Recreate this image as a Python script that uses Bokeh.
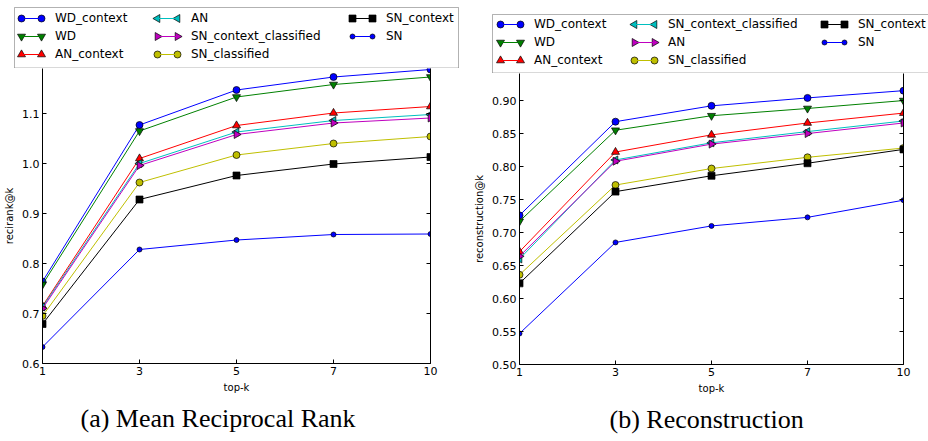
import math

from bokeh.embed import file_html
from bokeh.layouts import column, row
from bokeh.models import (BoxAnnotation, FixedTicker, Legend, LegendItem,
                          LinearAxis, Range1d, Title)
from bokeh.plotting import figure
from bokeh.resources import INLINE

# x positions are evenly spaced, labelled by the top-k cut-off
TOP_K = [1, 3, 5, 7, 10]

# ---- (a) mean reciprocal rank ----
MRR_LABELS = ["WD_context", "WD", "AN_context", "AN",
              "SN_context_classified", "SN_classified", "SN_context", "SN"]
MRR_WD_CONTEXT = [0.764, 1.077, 1.147, 1.173, 1.188]
MRR_WD = [0.758, 1.065, 1.133, 1.158, 1.173]
MRR_AN_CONTEXT = [0.715, 1.010, 1.076, 1.101, 1.114]
MRR_AN = [0.713, 1.000, 1.063, 1.086, 1.098]
MRR_SN_CONTEXT_CLASSIFIED = [0.710, 0.996, 1.058, 1.081, 1.091]
MRR_SN_CLASSIFIED = [0.695, 0.962, 1.017, 1.040, 1.054]
MRR_SN_CONTEXT = [0.679, 0.928, 0.976, 0.999, 1.013]
MRR_SN = [0.633, 0.828, 0.847, 0.858, 0.859]
MRR_TICKS = [0.6, 0.7, 0.8, 0.9, 1.0, 1.1]

# ---- (b) reconstruction ----
REC_LABELS = ["WD_context", "WD", "AN_context", "SN_context_classified",
              "AN", "SN_classified", "SN_context", "SN"]
REC_WD_CONTEXT = [0.726, 0.868, 0.892, 0.904, 0.915]
REC_WD = [0.717, 0.855, 0.877, 0.888, 0.900]
REC_AN_CONTEXT = [0.671, 0.822, 0.848, 0.866, 0.881]
REC_SN_CONTEXT_CLASSIFIED = [0.660, 0.810, 0.836, 0.853, 0.869]
REC_AN = [0.664, 0.808, 0.834, 0.850, 0.866]
REC_SN_CLASSIFIED = [0.636, 0.772, 0.797, 0.814, 0.828]
REC_SN_CONTEXT = [0.623, 0.762, 0.786, 0.805, 0.826]
REC_SN = [0.547, 0.685, 0.710, 0.723, 0.749]
REC_TICKS = [0.50, 0.55, 0.60, 0.65, 0.70, 0.75, 0.80, 0.85, 0.90]

MRR_VALUES = [MRR_WD_CONTEXT, MRR_WD, MRR_AN_CONTEXT, MRR_AN,
              MRR_SN_CONTEXT_CLASSIFIED, MRR_SN_CLASSIFIED, MRR_SN_CONTEXT, MRR_SN]
REC_VALUES = [REC_WD_CONTEXT, REC_WD, REC_AN_CONTEXT, REC_SN_CONTEXT_CLASSIFIED,
              REC_AN, REC_SN_CLASSIFIED, REC_SN_CONTEXT, REC_SN]

# line colour, marker, marker rotation, marker size (one per legend slot)
STYLES = [
    ("#0000ff", "circle", 0.0, 7),
    ("#008000", "inverted_triangle", 0.0, 8),
    ("#ff0000", "triangle", 0.0, 8),
    ("#00bfbf", "triangle", math.pi / 2, 8),
    ("#bf00bf", "triangle", -math.pi / 2, 8),
    ("#bfbf00", "circle", 0.0, 7),
    ("#000000", "square", 0.0, 7),
    ("#0000ff", "circle", 0.0, 5),
]

SANS = "DejaVu Sans"
SERIF = "Liberation Serif"
XS = list(range(len(TOP_K)))

# legend geometry (pixels)
ROW_H = 18
SWATCH_W = 20
N_ROWS = 3


def add_series(p, ys, style, **kw):
    color, marker, angle, size = style
    ln = p.line(XS, ys, line_color=color, line_width=1, **kw)
    mk = p.scatter(XS, ys, marker=marker, size=size, angle=angle,
                   fill_color=color, line_color="black", line_width=0.7, **kw)
    return ln, mk


def make_legend(labels, values, height, box, col_x, row_y):
    """Strip above a panel holding the boxed, three-column legend.

    The strip's frame fills the whole strip and its data units are pixels
    measured from the top-left corner, so the box and swatches can be
    placed directly.
    """
    lg = figure(width=464, height=height, output_backend="svg",
                toolbar_location=None, x_axis_type=None, y_axis_type=None,
                x_range=Range1d(0, 464), y_range=Range1d(height, 0),
                min_border=0, outline_line_color=None, frame_align=False)
    lg.grid.visible = False
    # legend entries refer to renderers kept on an off-screen range
    lg.extra_y_ranges = {"swatch": Range1d(100, 101)}

    bx0, bx1, by0, by1 = box
    lg.add_layout(BoxAnnotation(left=bx0, right=bx1, top=by0, bottom=by1,
                                fill_color="white", fill_alpha=1,
                                line_color="black", line_width=1))

    top = height - row_y - N_ROWS * ROW_H
    items = []
    for k, (label, ys, style) in enumerate(zip(labels, values, STYLES)):
        ln, _ = add_series(lg, ys, style, y_range_name="swatch")
        items.append(LegendItem(label=label, renderers=[ln]))
        # a marker at each end of the swatch line
        color, marker, angle, size = style
        cx = col_x[k // N_ROWS]
        cy = top + ROW_H / 2 + ROW_H * (k % N_ROWS)
        lg.scatter([cx, cx + SWATCH_W], [cy, cy], marker=marker, size=size,
                   angle=angle, fill_color=color, line_color="black",
                   line_width=0.7, level="overlay")

    for c, x in enumerate(col_x):
        col_items = items[N_ROWS * c:N_ROWS * c + N_ROWS]
        # shorter columns stay aligned to the top row
        y = row_y + (N_ROWS - len(col_items)) * ROW_H
        legend = Legend(items=col_items, location=(x, y),
                        orientation="vertical",
                        label_text_font=SANS, label_text_font_size="12px",
                        label_text_color="black",
                        glyph_width=SWATCH_W, glyph_height=ROW_H,
                        label_height=ROW_H, label_standoff=14, spacing=0,
                        padding=0, margin=0, border_line_color=None,
                        background_fill_alpha=0)
        lg.add_layout(legend, "center")
    return lg


def make_panel(values, y0, y1, ticks, fmt, ylabel, caption, height,
               borders, caption_offset):
    left, right, bottom = borders
    p = figure(width=464, height=height, output_backend="svg",
               toolbar_location=None, x_range=Range1d(0, len(TOP_K) - 1),
               y_range=Range1d(y0, y1),
               min_border_left=left, min_border_right=right,
               min_border_top=0, min_border_bottom=bottom,
               frame_align=False, outline_line_color=None)
    p.grid.visible = False

    p.xaxis.ticker = FixedTicker(ticks=XS)
    p.xaxis.major_label_overrides = {i: str(k) for i, k in enumerate(TOP_K)}
    p.yaxis.ticker = FixedTicker(ticks=ticks)
    p.yaxis.major_label_overrides = {t: fmt.format(t) for t in ticks}
    p.xaxis.axis_label = "top-k"
    p.yaxis.axis_label = ylabel

    for ax in (p.xaxis[0], p.yaxis[0]):
        ax.major_tick_in = 4
        ax.major_tick_out = 0
        ax.minor_tick_line_color = None
        ax.axis_line_color = "black"
        ax.major_label_text_font = SANS
        ax.major_label_text_font_size = "11px"
        ax.major_label_text_color = "black"
        ax.axis_label_text_font = SANS
        ax.axis_label_text_font_size = "10px"
        ax.axis_label_text_font_style = "normal"
        ax.axis_label_text_color = "black"
        ax.major_label_standoff = 3
        ax.axis_label_standoff = 4

    # right-hand spine with mirrored tick marks
    rax = LinearAxis(ticker=FixedTicker(ticks=ticks), major_tick_in=4,
                     major_tick_out=0, minor_tick_line_color=None,
                     major_label_text_color=None, axis_line_color="black")
    p.add_layout(rax, "right")

    for ys, style in zip(values, STYLES):
        add_series(p, ys, style)

    p.add_layout(Title(text=caption, align="left", offset=caption_offset,
                       text_font=SERIF, text_font_size="26px",
                       text_font_style="normal", text_color="black",
                       standoff=12), "below")
    return p


left = column(
    make_legend(MRR_LABELS, MRR_VALUES, 68, (14, 458, 7, 67.5),
                (21, 157, 352), 5),
    make_panel(MRR_VALUES, 0.6, 1.19, MRR_TICKS, "{:.1f}", "recirank@k",
               "(a) Mean Reciprocal Rank", 373, (42, 34, 78), 38),
    spacing=0)
right = column(
    make_legend(REC_LABELS, REC_VALUES, 73, (28, 480, 14, 72.5),
                (36, 170, 360), 4),
    make_panel(REC_VALUES, 0.50, 0.941, REC_TICKS, "{:.2f}",
               "reconstruction@k", "(b) Reconstruction", 368, (55, 25, 77),
               90),
    spacing=0)

layout = row(left, right, spacing=0)
open("out.html", "w").write(file_html(layout, INLINE))
